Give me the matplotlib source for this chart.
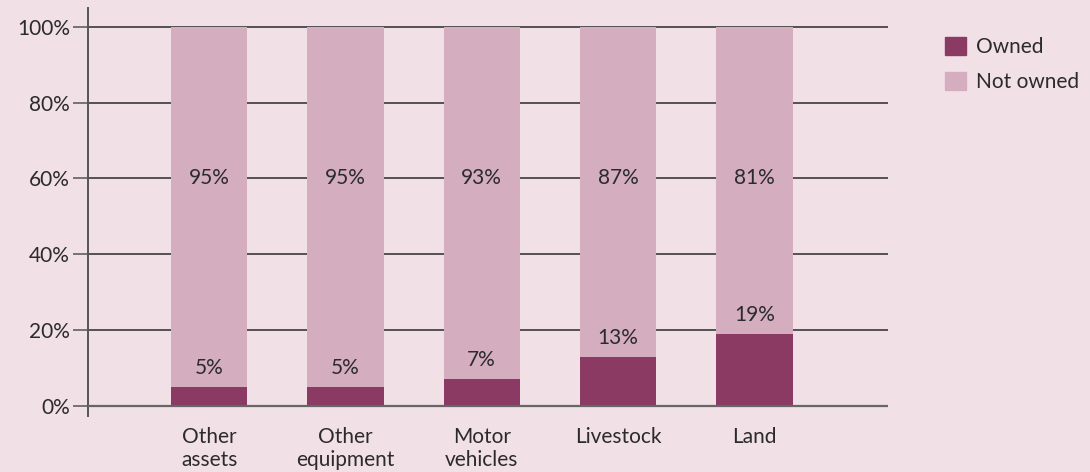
import matplotlib.pyplot as plt
from matplotlib.patches import Patch

categories = ['Other\nassets', 'Other\nequipment', 'Motor\nvehicles', 'Livestock', 'Land']
owned = [5, 5, 7, 13, 19]
not_owned = [95, 95, 93, 87, 81]

bg = '#f2e0e7'
c_owned = '#8b3a63'
c_not = '#d4adbf'
txt = '#2b2b2b'

plt.rcParams['font.family'] = ['Lato', 'DejaVu Sans']

fig = plt.figure(figsize=(10.9, 4.72), dpi=100, facecolor=bg)
ax = fig.add_axes([88/1090, 1 - 416/472, 800/1090, 408/472])
ax.set_facecolor(bg)

x = range(len(categories))
ax.set_xlim(-0.888, 4.98)
ax.set_ylim(-2.7, 105)

ax.hlines([20, 40, 60, 80, 100], -0.888, 4.98, color='#2a2a2a', lw=1.1, zorder=0.5)
ax.axhline(0, color='#666666', lw=1.6, zorder=4)

ax.bar(x, owned, width=0.56, color=c_owned, zorder=3)
ax.bar(x, not_owned, bottom=owned, width=0.56, color=c_not, zorder=3)

for i in x:
    ax.text(i, owned[i] + 5, f'{owned[i]}%', ha='center', va='center',
            fontsize=15, color=txt, zorder=5)
    ax.text(i, 60, f'{not_owned[i]}%', ha='center', va='center',
            fontsize=15, color=txt, zorder=5)

for s in ['top', 'right', 'bottom']:
    ax.spines[s].set_visible(False)
ax.spines['left'].set_color('#555555')
ax.spines['left'].set_linewidth(1.4)

ax.set_yticks([0, 20, 40, 60, 80, 100])
ax.set_yticklabels([f'{v}%' for v in [0, 20, 40, 60, 80, 100]])
ax.tick_params(axis='y', length=11, width=1.1, color='#555555', labelsize=15,
               labelcolor=txt, pad=2)
ax.set_xticks(list(x))
ax.set_xticklabels(categories, fontsize=15, color=txt, linespacing=1.15)
ax.tick_params(axis='x', length=0, pad=8)

handles = [Patch(color=c_owned, label='Owned'), Patch(color=c_not, label='Not owned')]
fig.legend(handles=handles, loc='upper left', bbox_to_anchor=(926/1090, 1 - 18/472),
           frameon=False, fontsize=15, handlelength=1.0, handleheight=1.0,
           handletextpad=0.5, labelspacing=0.7, labelcolor=txt)

fig.savefig('out.png', dpi=100, facecolor=bg)
